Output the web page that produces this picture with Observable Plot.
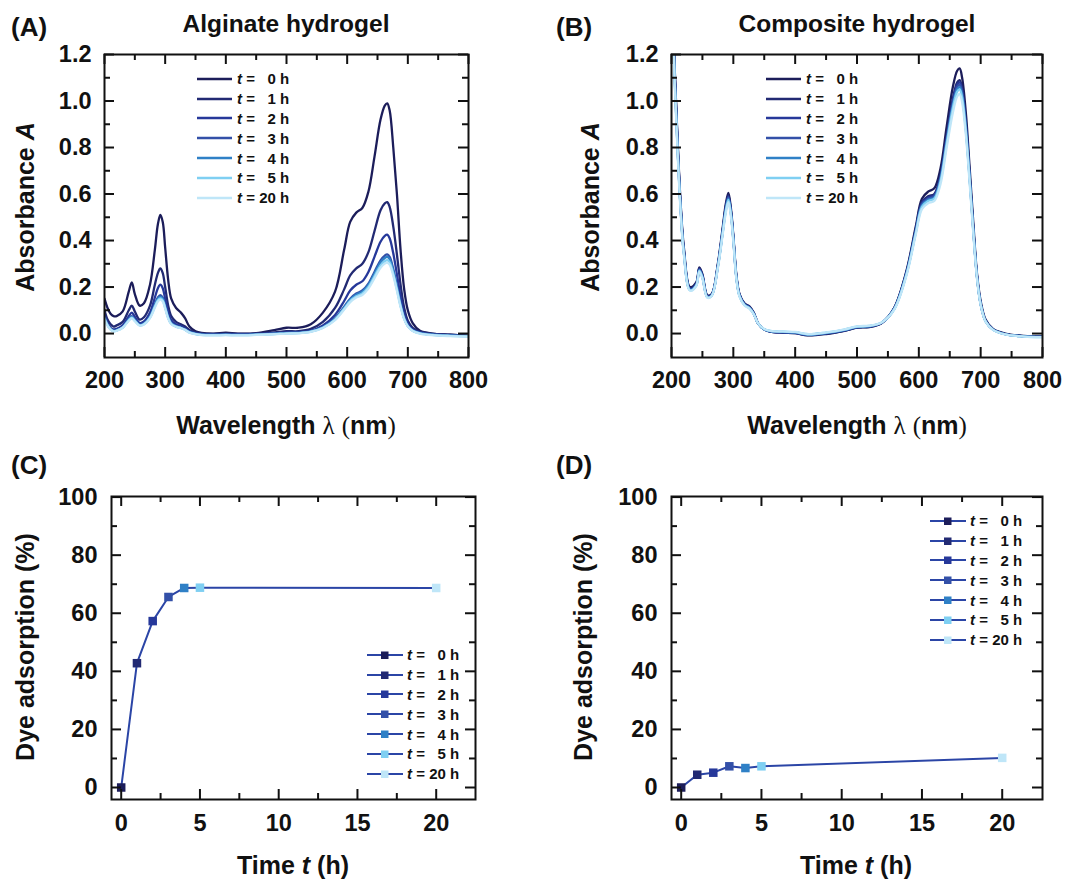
<!DOCTYPE html>
<html>
<head>
<meta charset="utf-8">
<script src="https://cdn.jsdelivr.net/npm/d3@7"></script>
<script src="https://cdn.jsdelivr.net/npm/@observablehq/plot@0.6"></script>
<style>
  html, body { margin: 0; padding: 0; background: #fff; }
  #root { position: relative; width: 1069px; height: 879px; overflow: hidden; background: #fff;
          font-family: "Liberation Sans", Arial, Helvetica, sans-serif; font-weight: bold; color: #111; }
  .panel { position: absolute; }
  .panel svg { display: block; }
  .lbl { position: absolute; white-space: nowrap; line-height: 1; transform: translate(-50%, -50%); }
  .ylbl { transform: translate(-50%, -50%) rotate(-90deg); }
  .serif { font-family: "Liberation Serif", "DejaVu Serif", serif; font-weight: normal; }
  .letter { position: absolute; font-size: 26px; line-height: 1; }
  .title { font-size: 24.5px; }
  .axlbl { font-size: 25px; }
  .legend { position: absolute; font-size: 15px; line-height: 1; }
  .legend .row { display: flex; align-items: center; height: 19.8px; }
  .legend svg { display: block; }
  .legend .n { display: inline-block; text-align: right; }
</style>
</head>
<body>
<div id="root"></div>
<script>
// ---------- data ----------
const seriesLabels = ["0", "1", "2", "3", "4", "5", "20"];
const seriesColors = ["#1c1d5a", "#222a73", "#26389a", "#3350a8", "#2f80c6", "#7fcff2", "#bfe6f8"];

const wavelengths = [200, 205, 210, 215, 220, 230, 240, 245, 250, 258, 265, 275, 283, 288, 292, 296, 300, 305, 310, 318,
  326, 333, 340, 350, 360, 380, 400, 420, 450, 480, 500, 520, 540, 560, 580, 595, 605, 615, 625, 635,
  645, 655, 662, 666, 670, 676, 682, 688, 694, 700, 708, 720, 740, 770, 800];

// (A) Alginate hydrogel absorbance
const alginate0 = [0.15, 0.11, 0.085, 0.075, 0.075, 0.095, 0.18, 0.22, 0.17, 0.12, 0.13, 0.21, 0.36, 0.47, 0.51, 0.48, 0.37, 0.23, 0.15, 0.11,
  0.09, 0.065, 0.03, 0.01, 0.003, 0.0, 0.004, 0.0, 0.002, 0.015, 0.025, 0.025, 0.04, 0.09, 0.18, 0.36, 0.48, 0.52, 0.54, 0.61,
  0.76, 0.92, 0.98, 0.99, 0.96, 0.8, 0.6, 0.36, 0.19, 0.1, 0.045, 0.012, 0.0, -0.005, -0.01];
const alginate1 = [0.1, 0.06, 0.04, 0.03, 0.035, 0.05, 0.1, 0.12, 0.095, 0.06, 0.07, 0.12, 0.21, 0.26, 0.28, 0.26, 0.2, 0.12, 0.075, 0.05,
  0.04, 0.03, 0.015, 0.005, 0.0, -0.002, 0.0, -0.002, 0.0, 0.005, 0.01, 0.01, 0.02, 0.05, 0.11, 0.19, 0.25, 0.28, 0.3, 0.35,
  0.44, 0.53, 0.56, 0.565, 0.545, 0.46, 0.34, 0.21, 0.11, 0.055, 0.025, 0.008, 0.0, -0.005, -0.01];
const alginate2 = [0.08, 0.045, 0.025, 0.018, 0.02, 0.035, 0.075, 0.09, 0.072, 0.045, 0.052, 0.09, 0.155, 0.195, 0.21, 0.195, 0.15, 0.09, 0.058, 0.04,
  0.032, 0.022, 0.01, 0.002, -0.002, -0.004, -0.003, -0.004, -0.002, 0.002, 0.005, 0.006, 0.012, 0.035, 0.08, 0.14, 0.185, 0.21, 0.225, 0.265,
  0.33, 0.395, 0.42, 0.425, 0.41, 0.345, 0.255, 0.16, 0.085, 0.042, 0.018, 0.005, -0.003, -0.007, -0.01];
const alginate3 = [0.07, 0.04, 0.02, 0.012, 0.015, 0.028, 0.062, 0.075, 0.06, 0.038, 0.043, 0.075, 0.125, 0.155, 0.165, 0.155, 0.12, 0.072, 0.045, 0.032,
  0.026, 0.018, 0.007, 0.0, -0.004, -0.005, -0.004, -0.005, -0.003, 0.0, 0.003, 0.004, 0.01, 0.028, 0.065, 0.115, 0.15, 0.172, 0.185, 0.215,
  0.265, 0.315, 0.335, 0.34, 0.33, 0.277, 0.205, 0.128, 0.068, 0.034, 0.014, 0.003, -0.004, -0.008, -0.01];
const alginate4 = [0.068, 0.038, 0.019, 0.011, 0.014, 0.027, 0.06, 0.072, 0.058, 0.037, 0.042, 0.072, 0.121, 0.15, 0.158, 0.15, 0.116, 0.07, 0.044, 0.031,
  0.025, 0.017, 0.006, -0.001, -0.005, -0.006, -0.005, -0.006, -0.004, -0.001, 0.002, 0.003, 0.009, 0.027, 0.063, 0.112, 0.146, 0.167, 0.18, 0.209,
  0.257, 0.306, 0.325, 0.33, 0.32, 0.269, 0.199, 0.124, 0.066, 0.033, 0.013, 0.002, -0.005, -0.009, -0.011];
const alginate5 = [0.065, 0.036, 0.018, 0.01, 0.013, 0.026, 0.057, 0.068, 0.055, 0.035, 0.04, 0.069, 0.116, 0.143, 0.151, 0.143, 0.111, 0.067, 0.042, 0.03,
  0.024, 0.016, 0.005, -0.002, -0.006, -0.007, -0.006, -0.007, -0.005, -0.002, 0.001, 0.002, 0.008, 0.025, 0.06, 0.107, 0.14, 0.16, 0.172, 0.2,
  0.246, 0.293, 0.311, 0.316, 0.306, 0.257, 0.19, 0.119, 0.063, 0.032, 0.012, 0.001, -0.006, -0.01, -0.012];
const alginate20 = [0.06, 0.034, 0.017, 0.009, 0.012, 0.025, 0.055, 0.065, 0.053, 0.034, 0.039, 0.066, 0.112, 0.138, 0.146, 0.138, 0.107, 0.064, 0.04, 0.029,
  0.023, 0.015, 0.004, -0.003, -0.007, -0.008, -0.007, -0.008, -0.006, -0.003, 0.0, 0.001, 0.007, 0.024, 0.058, 0.103, 0.135, 0.155, 0.166, 0.193,
  0.238, 0.283, 0.301, 0.305, 0.296, 0.249, 0.184, 0.115, 0.061, 0.031, 0.011, 0.0, -0.007, -0.011, -0.013];

// (B) Composite hydrogel absorbance
const composite0 = [1.6, 1.15, 0.82, 0.55, 0.37, 0.2, 0.22, 0.285, 0.255, 0.165, 0.17, 0.3, 0.46, 0.56, 0.605, 0.54, 0.42, 0.25, 0.17, 0.13,
  0.117, 0.09, 0.045, 0.018, 0.008, 0.004, 0.002, -0.008, -0.002, 0.012, 0.025, 0.028, 0.045, 0.11, 0.27, 0.46, 0.58, 0.61, 0.625, 0.71,
  0.89, 1.06, 1.13, 1.14, 1.1, 0.95, 0.72, 0.48, 0.26, 0.14, 0.06, 0.02, 0.0, -0.01, -0.012];
const composite1 = [1.6, 1.14, 0.81, 0.54, 0.36, 0.195, 0.215, 0.28, 0.25, 0.162, 0.168, 0.295, 0.45, 0.55, 0.595, 0.53, 0.415, 0.245, 0.167, 0.128,
  0.114, 0.088, 0.044, 0.018, 0.008, 0.004, 0.002, -0.007, 0.0, 0.013, 0.026, 0.029, 0.045, 0.108, 0.265, 0.45, 0.565, 0.59, 0.6, 0.68,
  0.85, 1.01, 1.08, 1.09, 1.055, 0.91, 0.69, 0.46, 0.25, 0.13, 0.055, 0.018, -0.002, -0.012, -0.014];
const composite2 = [1.6, 1.13, 0.8, 0.535, 0.355, 0.192, 0.213, 0.278, 0.248, 0.16, 0.167, 0.293, 0.447, 0.546, 0.59, 0.527, 0.412, 0.243, 0.166, 0.127,
  0.113, 0.087, 0.044, 0.018, 0.008, 0.005, 0.003, -0.006, 0.001, 0.014, 0.027, 0.03, 0.046, 0.107, 0.262, 0.445, 0.56, 0.585, 0.595, 0.675,
  0.84, 1.0, 1.07, 1.08, 1.045, 0.9, 0.685, 0.455, 0.248, 0.128, 0.054, 0.018, -0.002, -0.012, -0.014];
const composite3 = [1.6, 1.12, 0.79, 0.53, 0.35, 0.19, 0.21, 0.275, 0.245, 0.158, 0.165, 0.29, 0.443, 0.54, 0.585, 0.522, 0.408, 0.24, 0.164, 0.125,
  0.111, 0.086, 0.044, 0.018, 0.009, 0.006, 0.004, -0.005, 0.002, 0.015, 0.028, 0.031, 0.047, 0.106, 0.26, 0.44, 0.555, 0.58, 0.59, 0.668,
  0.832, 0.99, 1.06, 1.07, 1.035, 0.89, 0.678, 0.45, 0.246, 0.127, 0.053, 0.017, -0.003, -0.012, -0.014];
const composite4 = [1.6, 1.11, 0.785, 0.525, 0.347, 0.188, 0.208, 0.272, 0.243, 0.157, 0.164, 0.288, 0.44, 0.535, 0.58, 0.518, 0.405, 0.238, 0.162, 0.124,
  0.11, 0.085, 0.044, 0.018, 0.01, 0.007, 0.005, -0.004, 0.003, 0.016, 0.029, 0.032, 0.047, 0.105, 0.257, 0.436, 0.55, 0.575, 0.585, 0.662,
  0.824, 0.98, 1.05, 1.06, 1.025, 0.882, 0.672, 0.446, 0.244, 0.126, 0.053, 0.017, -0.003, -0.012, -0.014];
const composite5 = [1.6, 1.1, 0.78, 0.52, 0.345, 0.186, 0.206, 0.27, 0.24, 0.156, 0.163, 0.286, 0.437, 0.53, 0.575, 0.514, 0.402, 0.236, 0.161, 0.123,
  0.109, 0.084, 0.044, 0.019, 0.011, 0.008, 0.006, -0.003, 0.004, 0.017, 0.03, 0.033, 0.048, 0.104, 0.254, 0.432, 0.545, 0.57, 0.58, 0.655,
  0.816, 0.97, 1.04, 1.05, 1.015, 0.874, 0.666, 0.442, 0.242, 0.125, 0.052, 0.016, -0.004, -0.013, -0.015];
const composite20 = [1.6, 1.09, 0.77, 0.515, 0.34, 0.184, 0.204, 0.266, 0.237, 0.154, 0.161, 0.282, 0.43, 0.522, 0.565, 0.506, 0.396, 0.233, 0.159, 0.121,
  0.107, 0.083, 0.044, 0.02, 0.012, 0.009, 0.007, -0.002, 0.005, 0.018, 0.031, 0.034, 0.048, 0.102, 0.25, 0.425, 0.535, 0.56, 0.57, 0.642,
  0.8, 0.95, 1.02, 1.03, 0.995, 0.857, 0.653, 0.434, 0.238, 0.123, 0.051, 0.016, -0.004, -0.013, -0.015];

// (C)/(D) dye adsorption vs time
const times = [0, 1, 2, 3, 4, 5, 20];
const alginateAdsorption = [0, 42.8, 57.3, 65.6, 68.7, 68.8, 68.7];
const compositeAdsorption = [0, 4.4, 5.1, 7.3, 6.7, 7.3, 10.2];

// tick values
const wlMajor = [200, 300, 400, 500, 600, 700, 800];
const wlMinor = [250, 350, 450, 550, 650, 750];
const absMajor = [0, 0.2, 0.4, 0.6, 0.8, 1.0, 1.2];
const absMinor = [0.1, 0.3, 0.5, 0.7, 0.9, 1.1];
const timeMajor = [0, 5, 10, 15, 20];
const timeMinor = [2.5, 7.5, 12.5, 17.5];
const pctMajor = [0, 20, 40, 60, 80, 100];
const pctMinor = [10, 30, 50, 70, 90];

// ---------- build ----------
const lineColor = "#2b45a6";
const root = document.getElementById("root");

function tidySpectra(seriesArrays) {
  const out = [];
  seriesArrays.forEach((arr, i) => arr.forEach((a, j) => out.push({w: wavelengths[j], a, t: seriesLabels[i]})));
  return out;
}
const specA = tidySpectra([alginate0, alginate1, alginate2, alginate3, alginate4, alginate5, alginate20]);
const specB = tidySpectra([composite0, composite1, composite2, composite3, composite4, composite5, composite20]);
const kinC = times.map((t, i) => ({time: t, v: alginateAdsorption[i], t: seriesLabels[i]}));
const kinD = times.map((t, i) => ({time: t, v: compositeAdsorption[i], t: seriesLabels[i]}));

function frameTicks(xs, ys, innerW, innerH, len) {
  const o = {stroke: "#111", strokeWidth: 2};
  return [
    Plot.tickX(xs, {x: d => d, insetTop: innerH - len, ...o}),
    Plot.tickX(xs, {x: d => d, insetBottom: innerH - len, ...o}),
    Plot.tickY(ys, {y: d => d, insetRight: innerW - len, ...o}),
    Plot.tickY(ys, {y: d => d, insetLeft: innerW - len, ...o})
  ];
}

const baseStyle = {fontFamily: '"Liberation Sans", Arial, sans-serif', fontWeight: "bold", fontSize: "23.5px", color: "#111", background: "transparent", overflow: "visible"};
const heavy = {stroke: "#111", strokeWidth: 0.35};

function spectraPlot(data, m, W, H) {
  const iw = W - m.left - m.right, ih = H - m.top - m.bottom;
  return Plot.plot({
    width: W, height: H,
    marginLeft: m.left, marginRight: m.right, marginTop: m.top, marginBottom: m.bottom,
    style: baseStyle,
    x: {domain: [200, 800]},
    y: {domain: [-0.103, 1.2]},
    color: {domain: seriesLabels, range: seriesColors},
    marks: [
      Plot.lineY(data, {x: "w", y: "a", z: "t", stroke: "t", strokeWidth: 2.3, curve: "catmull-rom", clip: true}),
      ...frameTicks(wlMajor, absMajor, iw, ih, 10),
      ...frameTicks(wlMinor, absMinor, iw, ih, 6),
      Plot.frame({stroke: "#111", strokeWidth: 2}),
      Plot.axisX({ticks: wlMajor, tickSize: 0, tickPadding: 14, tickFormat: d => String(d), label: null, ...heavy}),
      Plot.axisY({ticks: absMajor, tickSize: 0, tickPadding: 13, tickFormat: d3.format(".1f"), label: null, ...heavy})
    ]
  });
}

function kineticsPlot(data, m, W, H, xDom) {
  const iw = W - m.left - m.right, ih = H - m.top - m.bottom;
  return Plot.plot({
    width: W, height: H,
    marginLeft: m.left, marginRight: m.right, marginTop: m.top, marginBottom: m.bottom,
    style: baseStyle,
    x: {domain: xDom},
    y: {domain: [-4.13, 100.2]},
    color: {domain: seriesLabels, range: seriesColors},
    marks: [
      Plot.line(data, {x: "time", y: "v", stroke: lineColor, strokeWidth: 2}),
      Plot.dot(data, {x: "time", y: "v", fill: "t", symbol: "square", r: 4.8}),
      ...frameTicks(timeMajor, pctMajor, iw, ih, 10),
      ...frameTicks(timeMinor, pctMinor, iw, ih, 6),
      Plot.frame({stroke: "#111", strokeWidth: 2}),
      Plot.axisX({ticks: timeMajor, tickSize: 0, tickPadding: 15, tickFormat: d => String(d), label: null, ...heavy}),
      Plot.axisY({ticks: pctMajor, tickSize: 0, tickPadding: 14, tickFormat: d => String(d), label: null, ...heavy})
    ]
  });
}

function addPanel(svg, left, top) {
  const d = document.createElement("div");
  d.className = "panel";
  d.style.left = left + "px";
  d.style.top = top + "px";
  d.appendChild(svg);
  root.appendChild(d);
}

function addLabel(html, x, y, cls) {
  const d = document.createElement("div");
  d.className = "lbl " + cls;
  d.style.left = x + "px";
  d.style.top = y + "px";
  d.innerHTML = html;
  root.appendChild(d);
}

function addLetter(txt, x, y) {
  const d = document.createElement("div");
  d.className = "letter";
  d.style.left = x + "px";
  d.style.top = y + "px";
  d.textContent = txt;
  root.appendChild(d);
}

function addLegend(x, y, withMarker) {
  const d = document.createElement("div");
  d.className = "legend";
  d.style.left = x + "px";
  d.style.top = y + "px";
  seriesLabels.forEach((lab, i) => {
    const row = document.createElement("div");
    row.className = "row";
    const sw = withMarker
      ? `<svg width="36" height="12"><line x1="0" y1="6" x2="36" y2="6" stroke="${lineColor}" stroke-width="2"/><rect x="14" y="2.5" width="7.5" height="7.5" fill="${seriesColors[i]}"/></svg>`
      : `<svg width="35" height="6"><line x1="0" y1="3" x2="35" y2="3" stroke="${seriesColors[i]}" stroke-width="2.4"/></svg>`;
    row.innerHTML = sw + `<span style="margin-left:${withMarker ? 4 : 5}px"><i>t</i> =</span><span class="n" style="width:21px">${lab}</span><span>&nbsp;h</span>`;
    d.appendChild(row);
  });
  root.appendChild(d);
}

// Panel A
addPanel(spectraPlot(specA, {left: 104, right: 72, top: 54, bottom: 83}, 540, 440), 0, 0);
// Panel B
addPanel(spectraPlot(specB, {left: 131, right: 27, top: 54, bottom: 83}, 529, 440), 540, 0);
// Panel C
addPanel(kineticsPlot(kinC, {left: 111, right: 65, top: 56, bottom: 80}, 540, 439, [-0.616, 22.495]), 0, 440);
// Panel D
addPanel(kineticsPlot(kinD, {left: 131, right: 27, top: 56, bottom: 80}, 529, 439, [-0.604, 22.51]), 540, 440);

// letters and titles
addLetter("(A)", 11, 14);
addLetter("(B)", 556, 14);
addLetter("(C)", 11, 452);
addLetter("(D)", 556, 452);
addLabel("Alginate hydrogel", 286, 24, "title");
addLabel("Composite hydrogel", 857, 24, "title");

// axis labels
const wl = 'Wavelength <span class="serif">λ</span> <span class="serif">(</span>nm<span class="serif">)</span>';
addLabel(wl, 286, 425, "axlbl");
addLabel(wl, 857, 425, "axlbl");
addLabel("Absorbance <i>A</i>", 25, 207, "axlbl ylbl");
addLabel("Absorbance <i>A</i>", 590, 207, "axlbl ylbl");
addLabel("Dye adsorption (%)", 25, 647, "axlbl ylbl");
addLabel("Dye adsorption (%)", 583, 647, "axlbl ylbl");
addLabel("Time <i>t</i> (h)", 293, 865, "axlbl");
addLabel("Time <i>t</i> (h)", 856, 865, "axlbl");

// legends
addLegend(197, 69, false);
addLegend(766, 69, false);
addLegend(367, 645, true);
addLegend(930, 511, true);
</script>
</body>
</html>
